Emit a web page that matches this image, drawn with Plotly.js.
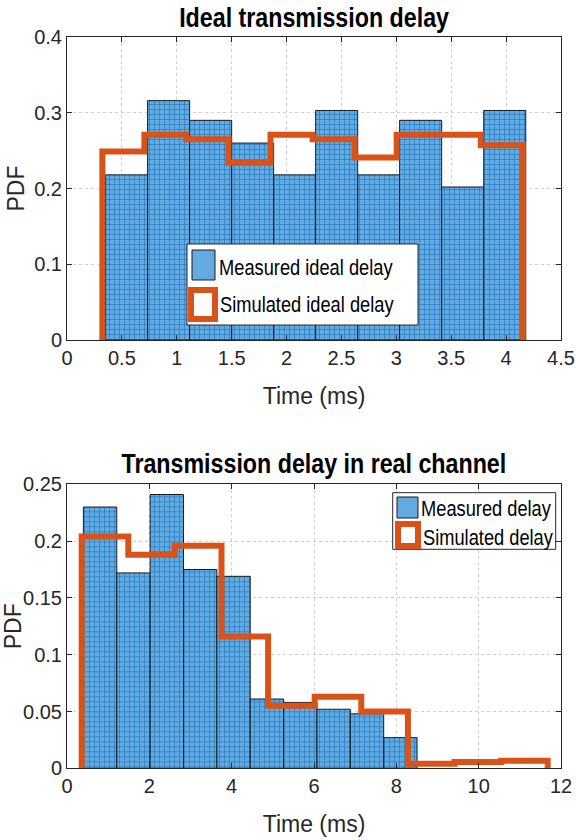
<!DOCTYPE html>
<html><head><meta charset="utf-8">
<script src="https://cdn.plot.ly/plotly-3.0.1.min.js"></script>
<style>
html,body{margin:0;padding:0;background:#fff}
#chart{width:576px;height:840px}
/* condensed look of the title and legend texts */
#chart text.gtitle, #chart text.annotation-text{
  transform-box: fill-box; transform: scaleX(0.83);
}
#chart text.gtitle{transform-origin:center;}
</style>
</head><body><div id="chart"></div>
<script>
// ---- Data ----
// Top panel: ideal transmission delay
const idealMeasEdges = [0.352, 0.734, 1.117, 1.500, 1.882, 2.265, 2.648, 3.030, 3.413, 3.796, 4.179];
const idealMeasPdf   = [0.218, 0.316, 0.290, 0.260, 0.218, 0.303, 0.218, 0.290, 0.202, 0.303];
const idealSimEdges  = [0.322, 0.705, 1.088, 1.471, 1.854, 2.237, 2.620, 3.003, 3.386, 3.769, 4.152];
const idealSimPdf    = [0.249, 0.271, 0.265, 0.234, 0.271, 0.265, 0.241, 0.271, 0.271, 0.257];
// Bottom panel: transmission delay in real channel
const realMeasEdges = [0.398, 1.209, 2.019, 2.830, 3.640, 4.451, 5.261, 6.072, 6.882, 7.693, 8.503];
const realMeasPdf   = [0.230, 0.172, 0.241, 0.175, 0.169, 0.061, 0.058, 0.052, 0.048, 0.027];
const realSimEdges  = [0.357, 1.489, 2.621, 3.753, 4.885, 6.017, 7.149, 8.281, 9.413, 10.545, 11.677];
const realSimPdf    = [0.204, 0.188, 0.196, 0.116, 0.055, 0.063, 0.050, 0.004, 0.0055, 0.0067];

const titles = ['Ideal transmission delay', 'Transmission delay in real channel'];
const legendTop = ['Measured ideal delay', 'Simulated ideal delay'];
const legendBottom = ['Measured delay', 'Simulated delay'];
const xTitle = 'Time (ms)';
const yTitle = 'PDF';

// ---- Helpers ----
function centers(e){ return e.slice(0,-1).map((v,i)=>(v+e[i+1])/2); }
function widths(e){ return e.slice(0,-1).map((v,i)=>e[i+1]-v); }
function stairX(e){ return [e[0]].concat(e); }
function stairY(v){ return [0].concat(v, [0]); }

const W = 576, H = 840;
const px = x => x / W;
const py = y => 1 - y / H;

const REG = 'Liberation Sans, Arial, Helvetica, sans-serif';
const BLUE = '#62aae0', BLUE_FG = '#1b74c0', ORANGE = '#D95319', AX = '#262626';

function barTrace(edges, vals, name, xa, ya){
  return {type:'bar', x:centers(edges), y:vals, width:widths(edges), name:name,
    xaxis:xa, yaxis:ya, showlegend:false,
    marker:{color:BLUE, line:{color:'#1a1a1a', width:1},
      pattern:{shape:'+', fgcolor:BLUE_FG, bgcolor:BLUE, size:5, solidity:0.22}}};
}
function stairTrace(edges, vals, name, xa, ya){
  return {type:'scatter', mode:'lines', x:stairX(edges), y:stairY(vals), name:name,
    xaxis:xa, yaxis:ya, showlegend:false,
    line:{shape:'hv', color:ORANGE, width:6}};
}

const data = [
  barTrace(idealMeasEdges, idealMeasPdf, legendTop[0], 'x', 'y'),
  stairTrace(idealSimEdges, idealSimPdf, legendTop[1], 'x', 'y'),
  barTrace(realMeasEdges, realMeasPdf, legendBottom[0], 'x2', 'y2'),
  stairTrace(realSimEdges, realSimPdf, legendBottom[1], 'x2', 'y2')
];

function axisBase(){
  return {showline:true, linecolor:AX, linewidth:1, mirror:'ticks', ticks:'inside', ticklen:5,
    tickcolor:AX, showgrid:true, gridcolor:'#cfcfcf', griddash:'dot', gridwidth:1,
    zeroline:false, automargin:false, fixedrange:true,
    tickfont:{family:REG, size:20, color:AX}};
}
const xdom = [px(67), px(561)];
const xaxis = Object.assign(axisBase(), {domain:xdom, range:[0,4.5], dtick:0.5, tick0:0, anchor:'y',
  title:{text:xTitle, font:{family:REG, size:23, color:AX}, standoff:19}});
const yaxis = Object.assign(axisBase(), {domain:[py(340), py(37)], range:[0,0.4], dtick:0.1, tick0:0, anchor:'x',
  title:{text:yTitle, font:{family:REG, size:23, color:AX}, standoff:3}});
const xaxis2 = Object.assign(axisBase(), {domain:xdom, range:[0,12], dtick:2, tick0:0, anchor:'y2',
  title:{text:xTitle, font:{family:REG, size:23, color:AX}, standoff:19}});
const yaxis2 = Object.assign(axisBase(), {domain:[py(768.3), py(484.3)], range:[0,0.25], dtick:0.05, tick0:0, anchor:'x2',
  title:{text:yTitle, font:{family:REG, size:23, color:AX}, standoff:-3}});

function rect(x0,y0,x1,y1,fill,lineColor,lw){
  return {type:'rect', xref:'paper', yref:'paper', x0:px(x0), x1:px(x1), y0:py(y1), y1:py(y0),
    fillcolor:fill, line:{color:lineColor, width:lw}, layer:'above'};
}
function label(text,x,y){
  return {text:text, xref:'paper', yref:'paper', x:px(x), y:py(y), xanchor:'left', yanchor:'middle',
    showarrow:false, font:{family:REG, size:22, color:'#000'}};
}

const shapes = [
  rect(187,244,418,325,'#ffffff',AX,1),
  rect(192,250,215,280,BLUE,'#1a1a1a',1),
  rect(191,290,215,319,'#ffffff',ORANGE,6),
  rect(392.7,492.7,555.7,549.3,'#ffffff',AX,1),
  rect(397,497,418,518,BLUE,'#1a1a1a',1),
  rect(398,524,418,546,'#ffffff',ORANGE,6)
];
const annotations = [
  label(legendTop[0], 217, 267),
  label(legendTop[1], 218, 304),
  label(legendBottom[0], 419, 509),
  label(legendBottom[1], 421, 537),
  {text:titles[1], xref:'paper', yref:'paper', x:px(314), y:py(463), xanchor:'center', yanchor:'middle',
    showarrow:false, font:{family:REG, size:28, weight:'bold', color:'#000'}}
];

const layout = {
  width:W, height:H, margin:{l:0,r:0,t:0,b:0}, paper_bgcolor:'#fff', plot_bgcolor:'#fff',
  barmode:'overlay', showlegend:false,
  title:{text:titles[0], x:px(314), xanchor:'center', y:py(17), yanchor:'middle',
    font:{family:REG, size:28, weight:'bold', color:'#000'}},
  xaxis:xaxis, yaxis:yaxis, xaxis2:xaxis2, yaxis2:yaxis2,
  shapes:shapes, annotations:annotations
};

Plotly.newPlot('chart', data, layout, {staticPlot:true, displayModeBar:false}).then(function(){
  // the last annotation is the lower panel title: condense it around its centre
  document.querySelectorAll('#chart text.annotation-text').forEach(function(t){
    if (t.textContent === titles[1]) t.style.transformOrigin = 'center';
    else t.style.transformOrigin = 'left center';
  });
});
</script>
</body></html>
